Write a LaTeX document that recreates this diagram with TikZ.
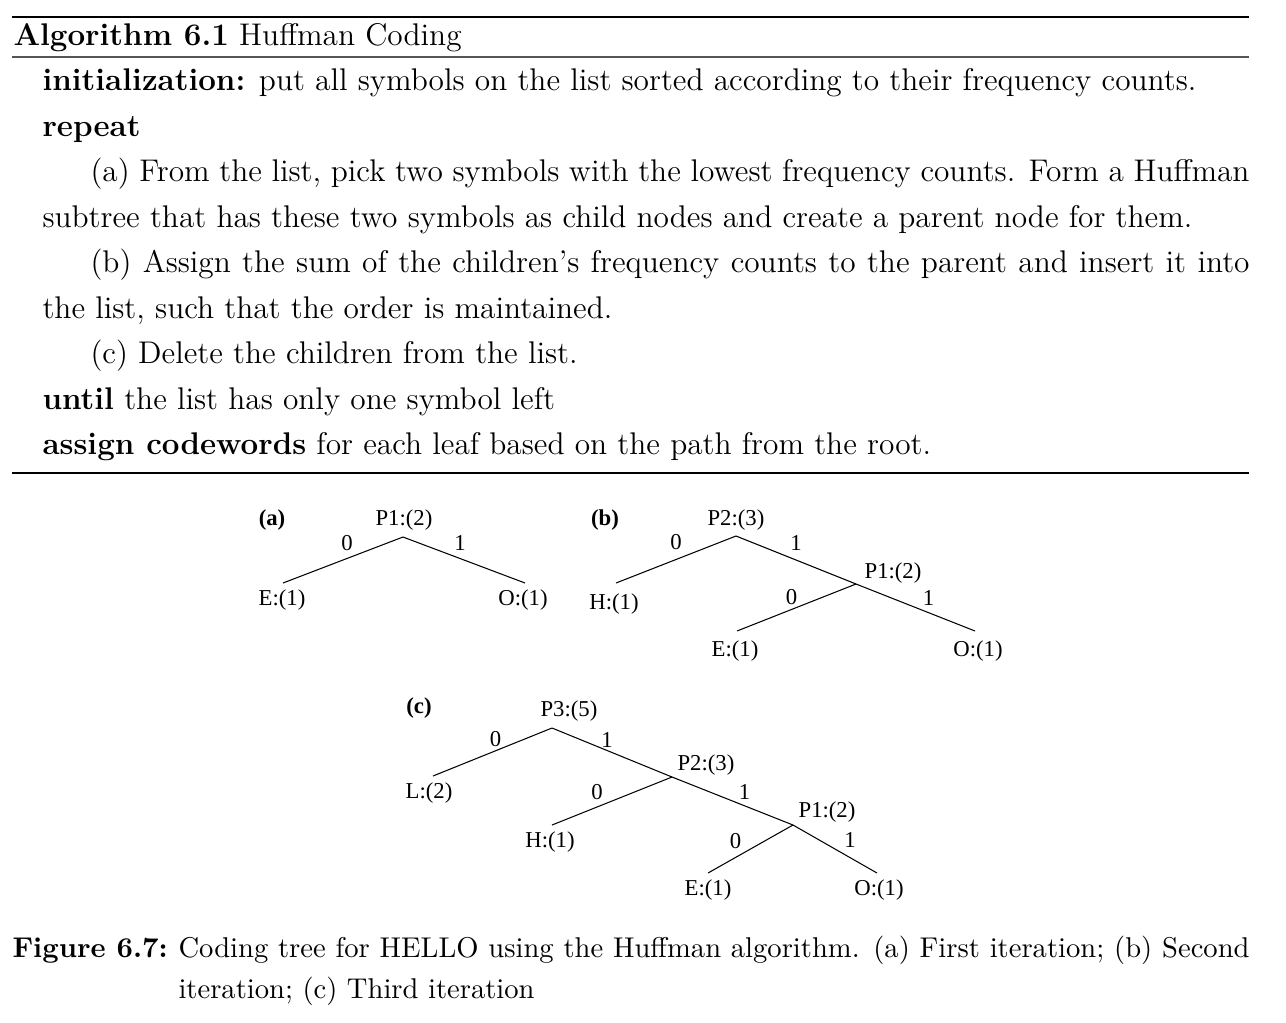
\documentclass[tikz,border=0pt]{standalone}
\usepackage{fontspec}
\usepackage{tikz}
\usetikzlibrary{positioning}
\newfontfamily\treefont{Liberation Serif}
\definecolor{ink}{HTML}{000000}
\definecolor{midrule}{HTML}{555555}
\tikzset{
  algline/.style={anchor=base west, inner sep=0pt, text=ink,
    font=\fontsize{12}{14.5}\selectfont},
  capline/.style={anchor=base west, inner sep=0pt, text=ink,
    font=\fontsize{10.95}{13.6}\selectfont},
  treelbl/.style={inner sep=0pt, text=ink, font=\treefont\fontsize{8.7}{10}\selectfont},
  treetag/.style={inner sep=0pt, text=ink, font=\treefont\bfseries\fontsize{8.7}{10}\selectfont},
  bit/.style={inner sep=0pt, text=ink, font=\treefont\fontsize{8.7}{10}\selectfont},
  branch/.style={draw=ink, line width=0.4pt}
}
\newcommand{\fullline}[1]{\makebox[443.9pt][s]{#1}}

\begin{document}
\begin{tikzpicture}[x=0.383pt,y=-0.383pt]
\useasboundingbox (0,0) rectangle (1286,1022);

% algorithm float
\draw[ink, line width=0.8pt] (12,17) -- (1249,17);
\node[algline] (title) at (13,45) {\textbf{Algorithm 6.1} Huffman Coding};
\draw[midrule, line width=0.4pt] (12,57) -- (1249,57);
\node[algline] (init) at (42,90.5) {\textbf{initialization:} put all symbols on the list sorted according to their frequency counts.};
\node[algline] (rep) at (42,136) {\textbf{repeat}};
\node[algline] (stepa) at (90,181.5) {\fullline{(a) From the list, pick two symbols with the lowest frequency counts. Form a Huffman}};
\node[algline] (stepa2) at (42,227) {subtree that has these two symbols as child nodes and create a parent node for them.};
\node[algline] (stepb) at (90,272.5) {\fullline{(b) Assign the sum of the children's frequency counts to the parent and insert it into}};
\node[algline] (stepb2) at (42,318) {the list, such that the order is maintained.};
\node[algline] (stepc) at (90,363.5) {(c) Delete the children from the list.};
\node[algline] (until) at (42,409) {\textbf{until} the list has only one symbol left};
\node[algline] (assign) at (42,454.5) {\textbf{assign codewords} for each leaf based on the path from the root.};
\draw[ink, line width=0.4pt] (12,473) -- (1249,473);

% tree (a)
\coordinate (a-p1) at (403,537);
\coordinate (a-e) at (283,583);
\coordinate (a-o) at (525,583);
\node[treetag] (a-tag) at (272,520) {(a)};
\node[treelbl] (a-p1-lbl) at (404,520) {P1:(2)};
\node[treelbl] (a-e-lbl) at (282,600) {E:(1)};
\node[treelbl] (a-o-lbl) at (523,600) {O:(1)};
\draw[branch] (a-p1) -- node[bit, shift={(4,-17)}] {0} (a-e);
\draw[branch] (a-p1) -- node[bit, shift={(-4,-17)}] {1} (a-o);

% tree (b)
\coordinate (b-p2) at (736,536);
\coordinate (b-h) at (616,583);
\coordinate (b-p1) at (856,584);
\coordinate (b-e) at (737,631);
\coordinate (b-o) at (975,631);
\node[treetag] (b-tag) at (605,520) {(b)};
\node[treelbl] (b-p2-lbl) at (736,520) {P2:(3)};
\node[treelbl] (b-h-lbl) at (614,604) {H:(1)};
\node[treelbl] (b-p1-lbl) at (893,573) {P1:(2)};
\node[treelbl] (b-e-lbl) at (735,651) {E:(1)};
\node[treelbl] (b-o-lbl) at (978,651) {O:(1)};
\draw[branch] (b-p2) -- node[bit, shift={(0,-17)}] {0} (b-h);
\draw[branch] (b-p2) -- node[bit, shift={(0,-17)}] {1} (b-p1);
\draw[branch] (b-p1) -- node[bit, shift={(-5,-10)}] {0} (b-e);
\draw[branch] (b-p1) -- node[bit, shift={(13,-10)}] {1} (b-o);

% tree (c)
\coordinate (c-p3) at (552,728);
\coordinate (c-l) at (433,776);
\coordinate (c-p2) at (672,777);
\coordinate (c-h) at (552,825);
\coordinate (c-p1) at (793,825);
\coordinate (c-e) at (708,873);
\coordinate (c-o) at (877,873);
\node[treetag] (c-tag) at (419,708) {(c)};
\node[treelbl] (c-p3-lbl) at (569,711) {P3:(5)};
\node[treelbl] (c-l-lbl) at (429,793) {L:(2)};
\node[treelbl] (c-p2-lbl) at (706,765) {P2:(3)};
\node[treelbl] (c-h-lbl) at (550,842) {H:(1)};
\node[treelbl] (c-p1-lbl) at (827,812) {P1:(2)};
\node[treelbl] (c-e-lbl) at (708,890) {E:(1)};
\node[treelbl] (c-o-lbl) at (879,890) {O:(1)};
\draw[branch] (c-p3) -- node[bit, shift={(3,-13)}] {0} (c-l);
\draw[branch] (c-p3) -- node[bit, shift={(-5,-13)}] {1} (c-p2);
\draw[branch] (c-p2) -- node[bit, shift={(-15,-9)}] {0} (c-h);
\draw[branch] (c-p2) -- node[bit, shift={(12,-9)}] {1} (c-p1);
\draw[branch] (c-p1) -- node[bit, shift={(-15,-8)}] {0} (c-e);
\draw[branch] (c-p1) -- node[bit, shift={(15,-9)}] {1} (c-o);

% caption
\node[capline] (capfig) at (12,957) {\textbf{Figure 6.7:}};
\node[capline] (cap1) at (178,957) {\makebox[410.2pt][s]{Coding tree for HELLO using the Huffman algorithm. (a) First iteration; (b) Second}};
\node[capline] (cap2) at (178,998) {iteration; (c) Third iteration};
\end{tikzpicture}
\end{document}
